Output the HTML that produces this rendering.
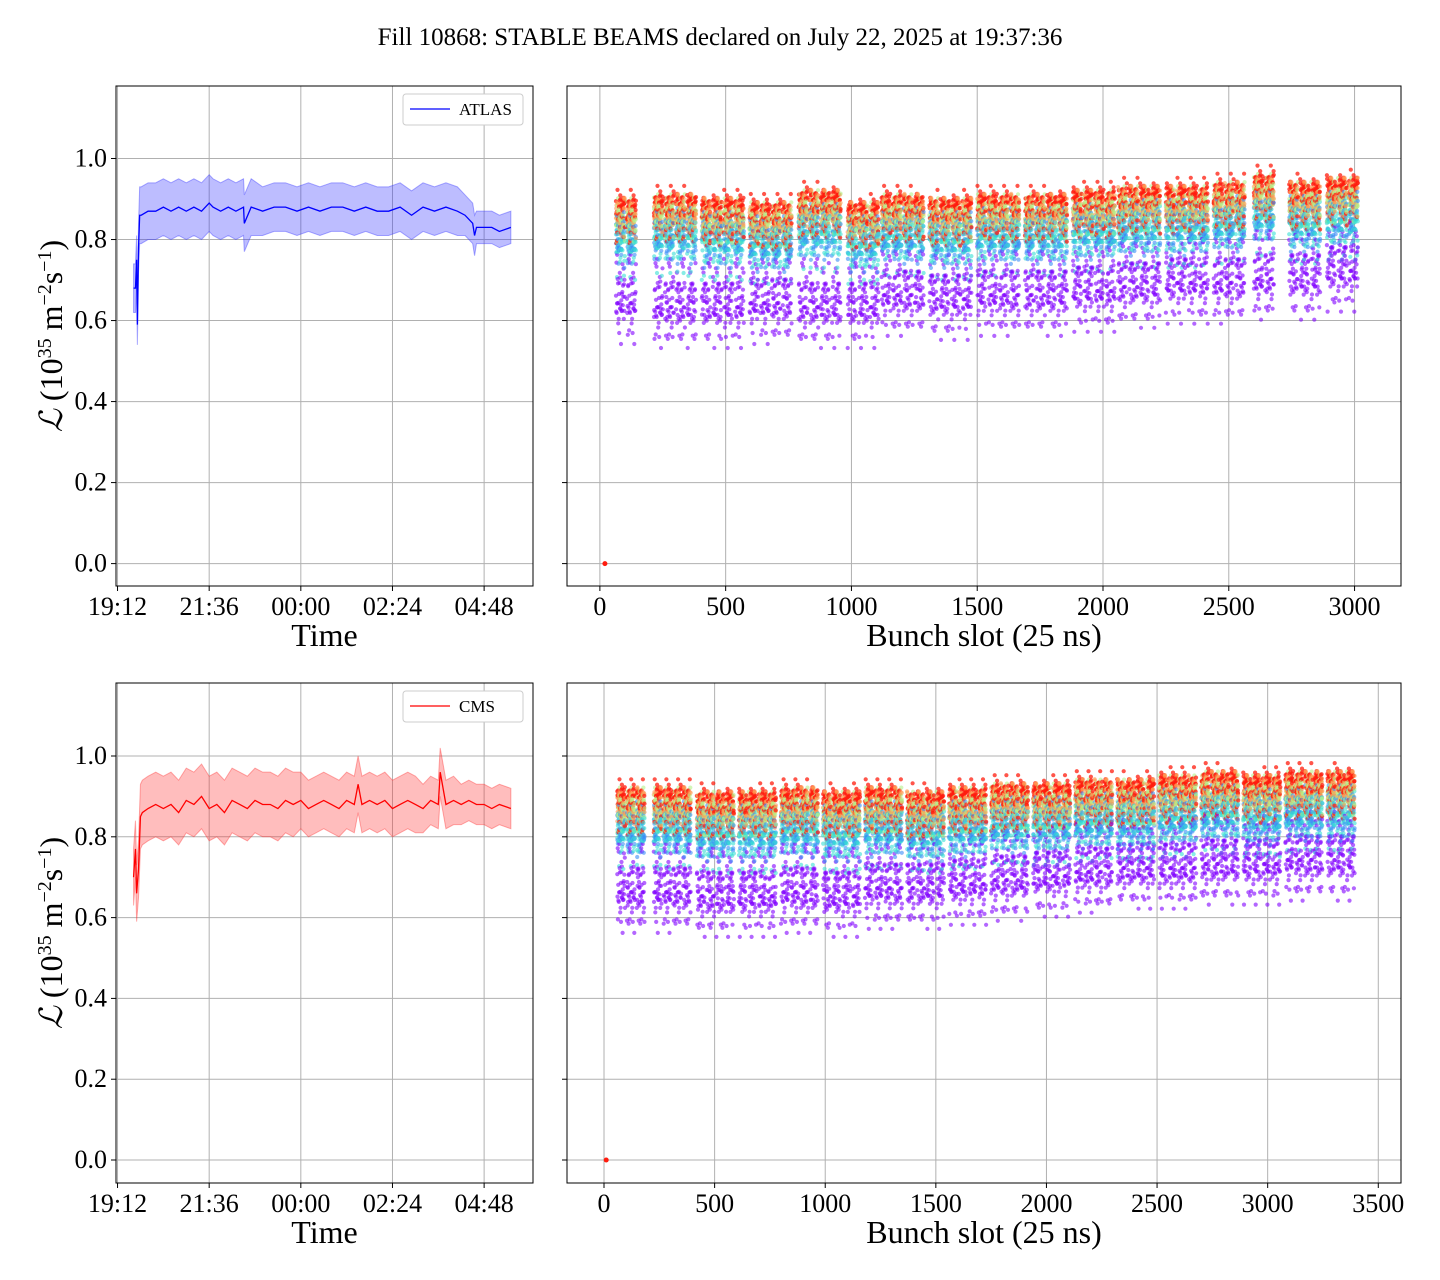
<!DOCTYPE html>
<html><head><meta charset="utf-8"><style>
body{margin:0;background:#fff}
svg{display:block;font-family:"Liberation Serif","DejaVu Serif",serif}
</style></head><body>
<svg id="fig" width="1440" height="1280" viewBox="0 0 1440 1280">
<text x="720" y="45" text-anchor="middle" font-size="25">Fill 10868: STABLE BEAMS declared on July 22, 2025 at 19:37:36</text>
</svg>
<script>
// ---- Time series data (hours since 19:12) ----
const atlasTimes = [0.42,0.47,0.5,0.52,0.55,0.58,0.62,0.8,1.0,1.2,1.4,1.6,1.8,2.0,2.2,2.4,2.5,2.7,2.9,3.1,3.3,3.32,3.5,3.8,4.1,4.4,4.7,5.0,5.3,5.6,5.9,6.2,6.5,6.8,7.1,7.4,7.7,8.0,8.3,8.6,8.9,9.1,9.3,9.35,9.4,9.6,9.8,10.0,10.3];
const atlasValues = [0.68,0.68,0.75,0.59,0.78,0.86,0.86,0.87,0.87,0.88,0.87,0.88,0.87,0.88,0.87,0.89,0.88,0.87,0.88,0.87,0.88,0.84,0.88,0.87,0.88,0.88,0.87,0.88,0.87,0.88,0.88,0.87,0.88,0.87,0.87,0.88,0.86,0.88,0.87,0.88,0.87,0.86,0.84,0.81,0.83,0.83,0.83,0.82,0.83];
const atlasSpread = [0.06,0.06,0.06,0.05,0.06,0.07,0.07,0.07,0.07,0.07,0.07,0.07,0.07,0.07,0.07,0.07,0.07,0.07,0.07,0.07,0.07,0.07,0.07,0.06,0.06,0.06,0.06,0.06,0.06,0.06,0.06,0.06,0.06,0.06,0.06,0.06,0.06,0.06,0.06,0.06,0.06,0.05,0.05,0.05,0.04,0.04,0.04,0.04,0.04];
const cmsTimes = [0.42,0.47,0.5,0.55,0.6,0.65,0.8,1.0,1.2,1.4,1.6,1.8,2.0,2.2,2.4,2.6,2.8,3.0,3.2,3.4,3.6,3.8,4.0,4.2,4.4,4.6,4.8,5.0,5.2,5.4,5.6,5.8,6.0,6.2,6.3,6.4,6.6,6.8,7.0,7.2,7.4,7.6,7.8,8.0,8.2,8.4,8.45,8.6,8.8,9.0,9.2,9.4,9.6,9.8,10.0,10.3];
const cmsValues = [0.70,0.77,0.66,0.72,0.85,0.86,0.87,0.88,0.87,0.88,0.86,0.89,0.88,0.90,0.87,0.88,0.86,0.89,0.88,0.87,0.89,0.88,0.88,0.87,0.89,0.88,0.89,0.87,0.88,0.89,0.88,0.87,0.89,0.88,0.93,0.88,0.89,0.88,0.89,0.87,0.88,0.89,0.88,0.87,0.89,0.88,0.96,0.88,0.89,0.88,0.89,0.88,0.88,0.87,0.88,0.87];
const cmsSpread = [0.07,0.07,0.07,0.07,0.08,0.08,0.08,0.08,0.08,0.08,0.08,0.08,0.08,0.08,0.08,0.08,0.08,0.08,0.08,0.08,0.08,0.08,0.08,0.08,0.08,0.08,0.07,0.07,0.07,0.07,0.07,0.07,0.07,0.07,0.07,0.07,0.07,0.07,0.07,0.07,0.07,0.07,0.07,0.06,0.06,0.06,0.06,0.06,0.06,0.05,0.05,0.05,0.05,0.05,0.05,0.05];
const timeTickLabels = ["19:12","21:36","00:00","02:24","04:48"];
const timeTickHours = [0,2.4,4.8,7.2,9.6];
const lumiTicks = [0.0,0.2,0.4,0.6,0.8,1.0];
// ---- Bunch-slot scatter data ----
const atlasGroupStarts = [64,215,405,595,790,985,1120,1310,1500,1690,1880,2060,2250,2440,2600,2740,2890];
const atlasGroupTrains = [2,4,4,4,4,3,4,4,4,4,4,4,4,3,2,3,3];
const atlasRedLevel = [0.86,0.87,0.86,0.85,0.88,0.85,0.87,0.86,0.87,0.87,0.88,0.89,0.89,0.90,0.92,0.90,0.91];
const atlasPurpleLevel = [0.65,0.64,0.64,0.65,0.64,0.64,0.67,0.66,0.67,0.67,0.68,0.69,0.70,0.70,0.71,0.71,0.73];
const cmsGroupStarts = [60,225,420,610,800,990,1180,1370,1560,1750,1940,2130,2320,2510,2700,2890,3080,3270];
const cmsGroupTrains = [3,4,4,4,4,4,4,4,4,4,4,4,4,4,4,4,4,3];
const cmsRedLevel = [0.88,0.88,0.87,0.87,0.88,0.87,0.88,0.87,0.88,0.89,0.89,0.90,0.90,0.91,0.92,0.91,0.92,0.92];
const cmsPurpleLevel = [0.67,0.67,0.66,0.66,0.67,0.66,0.68,0.68,0.69,0.70,0.71,0.72,0.73,0.73,0.74,0.74,0.75,0.75];
const bunchPattern = [0.013,-0.041,0.057,-0.008,0.072,-0.063,0.004,0.036,-0.027,0.091,-0.017,0.029,-0.084,0.061,-0.002,-0.052,0.083,-0.071,0.021,0.044,-0.112,0.009,-0.033,0.067,-0.046,0.025,0.052,-0.019,0.078,-0.058,0.016,-0.124,0.038,-0.011,0.064,-0.036,0.003,0.049,-0.069,0.027,-0.004,0.086,-0.089,0.033,-0.024,0.058,-0.015,0.041,-0.054,0.007,0.095,-0.038,0.019];
const atlasSlotTicks = [0,500,1000,1500,2000,2500,3000];
const cmsSlotTicks = [0,500,1000,1500,2000,2500,3000,3500];

const NS="http://www.w3.org/2000/svg";
const svg=document.getElementById('fig');
function mk(tag,attrs,parent){const e=document.createElementNS(NS,tag);for(const k in attrs)e.setAttribute(k,attrs[k]);(parent||svg).appendChild(e);return e;}

function panel(name,x0,x1,y0,y1,xmin,xmax,ymin,ymax){
  const sx=v=>x0+(v-xmin)/(xmax-xmin)*(x1-x0);
  const sy=v=>y1-(v-ymin)/(ymax-ymin)*(y1-y0);
  const g=mk('g',{});
  
  
  return {sx,sy,g,x0,x1,y0,y1};
}
function drawFrame(p,xticks,xlabels,ylabelsShown,xtitle){
  const grid=mk('g',{},p.g);
  
  
  xticks.forEach((t,i)=>{
    const x=p.sx(t);
    mk('line',{x1:x,x2:x,y1:p.y0,y2:p.y1,stroke:'#b0b0b0','stroke-width':1},grid);
    mk('line',{x1:x,x2:x,y1:p.y1,y2:p.y1+5,stroke:'#000'},p.g);
    const tl=mk('text',{x:x,y:p.y1+29,'text-anchor':'middle','font-size':26},p.g);
    tl.textContent=xlabels[i];
    
    
  });
  lumiTicks.forEach(t=>{
    const y=p.sy(t);
    mk('line',{x1:p.x0,x2:p.x1,y1:y,y2:y,stroke:'#b0b0b0','stroke-width':1},grid);
    mk('line',{x1:p.x0-5,x2:p.x0,y1:y,y2:y,stroke:'#000'},p.g);
    if(ylabelsShown){
      const tl=mk('text',{x:p.x0-9,y:y+8,'text-anchor':'end','font-size':26},p.g);
      tl.textContent=t.toFixed(1);
      
      
    }
  });
  const xt=mk('text',{x:(p.x0+p.x1)/2,y:p.y1+60,'text-anchor':'middle','font-size':32},p.g);
  xt.textContent=xtitle;
  
  
}
function drawBorder(p){
  const r=mk('rect',{x:p.x0,y:p.y0,width:p.x1-p.x0,height:p.y1-p.y0,fill:'none',stroke:'#000','stroke-width':1},p.g);
  
  
}
function yTitle(cy){
  const t=mk('text',{x:0,y:0,'font-size':32,transform:`translate(62,${cy}) rotate(-90)`,'text-anchor':'middle'});
  
  
  t.innerHTML='<tspan font-style="italic" font-family="DejaVu Serif, serif">ℒ</tspan> (10<tspan dy="-11" font-size="20">35</tspan><tspan dy="11"> m</tspan><tspan dy="-11" font-size="20">−2</tspan><tspan dy="11">s</tspan><tspan dy="-11" font-size="20">−1</tspan><tspan dy="11">)</tspan>';
}
function timePanel(p,times,vals,spread,col,fillCol,label){
  drawFrame(p,timeTickHours,timeTickLabels,true,'Time');
  let up='',lo='';
  times.forEach((t,i)=>{up+=(i?'L':'M')+p.sx(t)+','+p.sy(vals[i]+spread[i]);});
  for(let i=times.length-1;i>=0;i--)lo+='L'+p.sx(times[i])+','+p.sy(vals[i]-spread[i]);
  const band=mk('path',{d:up+lo+'Z',fill:fillCol,'fill-opacity':0.32,stroke:fillCol,'stroke-opacity':0.4},p.g);
  
  
  const pts=times.map((t,i)=>p.sx(t)+','+p.sy(vals[i])).join(' ');
  const ln=mk('polyline',{points:pts,fill:'none',stroke:col,'stroke-width':1.3},p.g);
  
  
  drawBorder(p);
  const lg=mk('g',{},p.g);
  
  
  const lx=p.x1-130;
  mk('rect',{x:lx,y:p.y0+8,width:120,height:31,rx:3,fill:'#fff',stroke:'#ccc'},lg);
  mk('line',{x1:lx+7,x2:lx+47,y1:p.y0+23,y2:p.y0+23,stroke:col,'stroke-width':1.3},lg);
  const lt=mk('text',{x:lx+56,y:p.y0+29,'font-size':17},lg);
  lt.textContent=label;
  
  
}
const rainbow=['#8000ff','#3a8df6','#38e0d3','#b4f28a','#ff9a52','#ff1c0e'];
function scatterPanel(p,ticks,starts,trains,redL,purL,zeroSlot){
  drawFrame(p,ticks,ticks.map(String),false,'Bunch slot (25 ns)');
  const sg=mk('g',{},p.g);
  
  
  const L=bunchPattern.length;
  const P=i=>bunchPattern[((i%L)+L)%L];
  starts.forEach((s,gi)=>{
    for(let tr=0;tr<trains[gi];tr++){
      for(let b=0;b<36;b+=1){
        const slot=s+tr*44+b;
        const k=slot;
        const vals=[
          purL[gi]+P(k)*0.75+P(k*7+3)*0.55,
          redL[gi]-0.06+P(k*3+5)*0.5+P(k*11+1)*0.3,
          redL[gi]-0.07+P(k*5+9)*0.5+P(k*13+2)*0.3,
          redL[gi]-0.02+P(k*2+3)*0.4+P(k*17+4)*0.3,
          redL[gi]-0.01+P(k*9+7)*0.4+P(k*19+6)*0.3,
          redL[gi]+P(k*4+13)*0.45+P(k*23+8)*0.35
        ];
        vals.forEach((v,ci)=>{
          mk('circle',{cx:p.sx(slot).toFixed(1),cy:p.sy(v).toFixed(1),r:2.1,fill:rainbow[ci],'fill-opacity':ci==5?0.75:0.6},sg);
        });
      }
    }
  });
  const z=mk('circle',{cx:p.sx(zeroSlot),cy:p.sy(0),r:2.5,fill:'#ff1c0e'},sg);
  
  
  drawBorder(p);
}
const pA=panel('atlas-time-panel',116,533,86,586,-0.04,10.88,-0.0553,1.1790);
timePanel(pA,atlasTimes,atlasValues,atlasSpread,'#0000ff','#3333ff','ATLAS');
const pB=panel('atlas-bunch-panel',567,1401,86,586,-130.7,3184.6,-0.0553,1.1790);
scatterPanel(pB,atlasSlotTicks,atlasGroupStarts,atlasGroupTrains,atlasRedLevel,atlasPurpleLevel,20);
const pC=panel('cms-time-panel',116,533,683,1183,-0.04,10.88,-0.0569,1.1807);
timePanel(pC,cmsTimes,cmsValues,cmsSpread,'#ff0000','#ff3333','CMS');
const pD=panel('cms-bunch-panel',567,1401,683,1183,-167.3,3602.7,-0.0569,1.1807);
scatterPanel(pD,cmsSlotTicks,cmsGroupStarts,cmsGroupTrains,cmsRedLevel,cmsPurpleLevel,10);
yTitle(336);
yTitle(933);
</script>
</body></html>
